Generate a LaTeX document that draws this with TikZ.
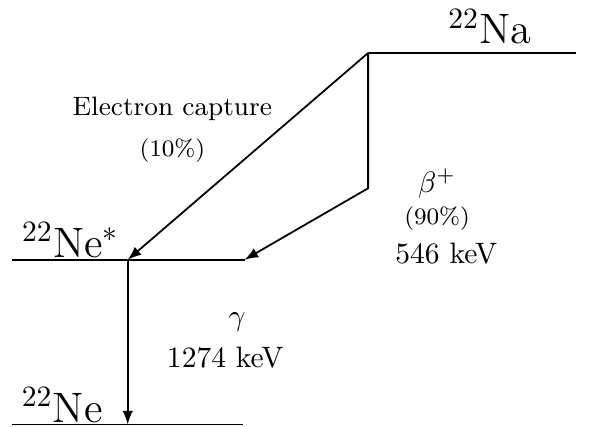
\documentclass[tikz,border=0pt]{standalone}
\usepackage{amsmath}
\usepackage{tikz}
\usetikzlibrary{arrows.meta, positioning}
\tikzstyle{level}=[semithick]
\tikzstyle{decay}=[semithick,->]
\tikzstyle{isotope}=[font=\Large]
\newcommand{\nuc}[2]{$^{#1}$#2}

\begin{document}
\begin{tikzpicture}[node distance=0.5cm,>=latex]
    \useasboundingbox (0,0) rectangle (7.02,5.07);
    % levels
    \coordinate (na1) at (4.38,4.44);
    \coordinate (na2) at (6.85,4.44);
    \coordinate (nes1) at (0.14,1.98);
    \coordinate (nes2) at (2.91,1.98);
    \coordinate (ne1) at (0.14,0.02);
    \coordinate (ne2) at (2.89,0.02);
    \coordinate (ec) at (1.52,1.98);
    \coordinate (bend) at (4.38,2.83);
    \coordinate (gnd) at (1.52,0.02);
    \draw[level] (na1) -- (na2);
    \draw[level] (nes1) -- (nes2);
    \draw[level] (ne1) -- (ne2);
    \node[isotope] (Na) at (5.83,4.75) {\nuc{22}{Na}};
    \node[isotope] (NeS) at (0.84,2.21) {\nuc{22}{Ne$^*$}};
    \node[isotope] (Ne) at (0.74,0.25) {\nuc{22}{Ne}};
    % transitions
    \draw[decay] (na1) -- (ec);
    \draw[decay] (na1) -- (bend) -- (nes2);
    \draw[decay] (ec) -- (gnd);
    \node[font=\small] (eclbl) at (2.05,3.78) {Electron capture};
    \node[font=\footnotesize, below of=eclbl] (ecpct) {(10\%)};
    \node (beta) at (5.20,2.89) {$\beta^+$};
    \node[font=\footnotesize, below of=beta, node distance=0.42cm] (betapct) {(90\%)};
    \node[below of=betapct, node distance=0.42cm, xshift=0.11cm] (betaE) {546 keV};
    \node (gam) at (2.82,1.24) {$\gamma$};
    \node[below of=gam, node distance=0.42cm, xshift=-0.14cm] (gamE) {1274 keV};
\end{tikzpicture}
\end{document}
